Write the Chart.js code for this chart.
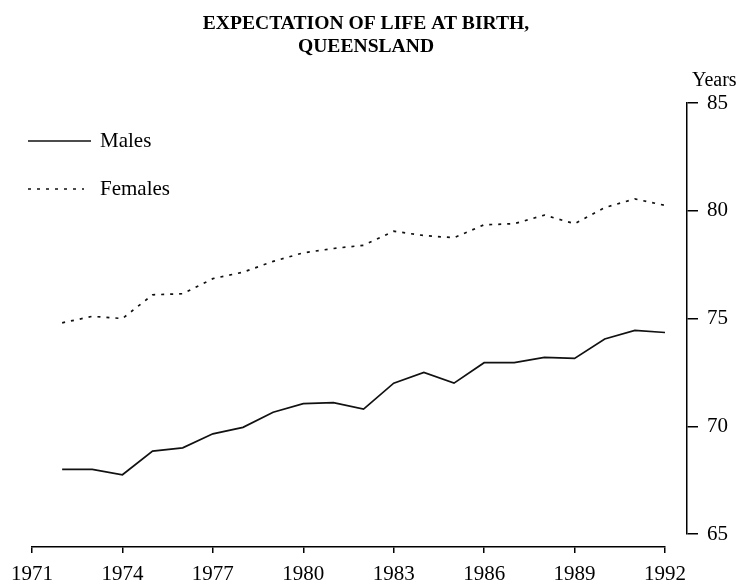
<!DOCTYPE html>
<html><head><meta charset="utf-8">
<script src="https://cdn.jsdelivr.net/npm/chart.js@4/dist/chart.umd.min.js"></script>
<style>html,body{margin:0;padding:0;background:#fff}#wrap{width:742px;height:584px}</style>
</head><body><div id="wrap"><canvas id="c" width="742" height="584"></canvas></div>
<script>
const years = [1972,1973,1974,1975,1976,1977,1978,1979,1980,1981,1982,1983,1984,1985,1986,1987,1988,1989,1990,1991,1992];
const males = [68.0,68.0,67.75,68.85,69.0,69.65,69.95,70.65,71.05,71.1,70.8,72.0,72.5,72.0,72.95,72.95,73.2,73.15,74.05,74.45,74.35];
const females = [74.8,75.1,75.0,76.1,76.15,76.85,77.15,77.65,78.05,78.25,78.4,79.05,78.85,78.75,79.35,79.4,79.8,79.4,80.15,80.55,80.25];
const xTicks = [1971,1974,1977,1980,1983,1986,1989,1992];
const yTicks = [65,70,75,80,85];
const titleLines = ['EXPECTATION OF LIFE AT BIRTH,', 'QUEENSLAND'];
const seriesNames = ['Males', 'Females'];
const yUnit = 'Years';

const SERIF = "'Liberation Serif','Times New Roman',serif";
const INK = '#000';

const overlay = {
  id: 'overlay',
  afterDraw(chart) {
    const ctx = chart.ctx;
    const y = chart.scales.y;
    ctx.save();
    ctx.fillStyle = INK;
    ctx.font = '20px ' + SERIF;
    ctx.textAlign = 'left';
    ctx.textBaseline = 'middle';
    ctx.fillText(yUnit, y.left + 5, y.top - 22);
    const rows = [
      {y: 141, x1: 28, x2: 91},
      {y: 189, x1: 28, x2: 84}
    ];
    chart.data.datasets.forEach((ds, i) => {
      const r = rows[i];
      ctx.strokeStyle = ds.borderColor;
      ctx.lineWidth = ds.borderWidth;
      ctx.setLineDash(ds.borderDash || []);
      ctx.beginPath();
      ctx.moveTo(r.x1, r.y);
      ctx.lineTo(r.x2, r.y);
      ctx.stroke();
      ctx.setLineDash([]);
      ctx.font = '21px ' + SERIF;
      ctx.fillText(ds.label, 100, r.y);
    });
    ctx.restore();
  }
};

const dummy = (pos, size, horizontal) => ({
  type: 'linear', position: pos, weight: 0, min: 0, max: 1, display: true,
  grid: {display: false, drawTicks: false}, border: {display: false}, ticks: {display: false},
  afterFit(s) { if (horizontal) s.height = size; else s.width = size; }
});

new Chart(document.getElementById('c'), {
  type: 'line',
  data: {
    datasets: [
      {label: seriesNames[0], data: years.map((yr, i) => ({x: yr, y: males[i]})),
       borderColor: '#111', borderWidth: 1.7, pointRadius: 0, tension: 0, fill: false},
      {label: seriesNames[1], data: years.map((yr, i) => ({x: yr, y: females[i]})),
       borderColor: '#111', borderWidth: 1.7, borderDash: [3, 6], pointRadius: 0, tension: 0, fill: false}
    ]
  },
  options: {
    responsive: false, animation: false, devicePixelRatio: 1,
    layout: {padding: {left: 0, right: 10, top: 0, bottom: 0}},
    plugins: {
      legend: {display: false},
      tooltip: {enabled: false},
      title: {display: true, text: titleLines, color: INK,
        font: {family: SERIF, size: 19.6, weight: 'bold', lineHeight: 1.2},
        padding: {top: 12, bottom: 44}}
    },
    scales: {
      x: {type: 'linear', position: 'bottom', weight: 1, min: 1971, max: 1992,
        afterBuildTicks(s) { s.ticks = xTicks.map(v => ({value: v})); },
        afterFit(s) { s.height = 37; },
        grid: {drawOnChartArea: false, drawTicks: true, tickLength: 6, color: INK, lineWidth: 1.5},
        border: {display: true, color: INK, width: 1.5},
        ticks: {color: INK, font: {family: SERIF, size: 21, lineHeight: 1}, padding: 11, maxRotation: 0, autoSkip: false,
          callback: v => String(v)}
      },
      xgap: dummy('bottom', 13, true),
      y: {type: 'linear', position: 'right', weight: 1, min: 65, max: 85,
        afterBuildTicks(s) { s.ticks = yTicks.map(v => ({value: v})); },
        afterFit(s) { s.width = 45; },
        grid: {drawOnChartArea: false, drawTicks: true, tickLength: 11, color: INK, lineWidth: 1.5},
        border: {display: true, color: INK, width: 1.5},
        ticks: {color: INK, font: {family: SERIF, size: 21}, padding: 9, callback: v => String(v)}
      },
      ygap: dummy('right', 22, false),
      yleft: dummy('left', 31, false)
    }
  },
  plugins: [overlay]
});
</script>
</body></html>
